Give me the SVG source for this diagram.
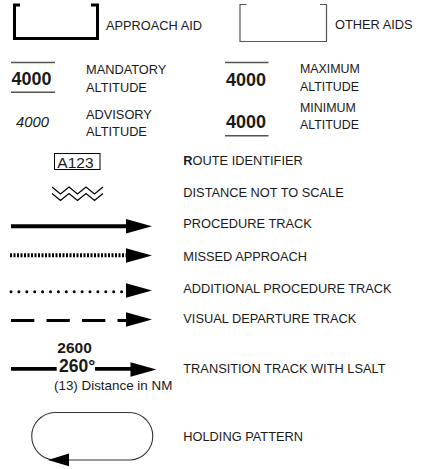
<svg xmlns="http://www.w3.org/2000/svg" width="427" height="469" viewBox="0 0 427 469">
<style>
text{font-family:"Liberation Sans",Arial,sans-serif;fill:#1a1a1a}
.lbl{font-size:12.8px}
.lbl2{font-size:12.4px}
.alt{font-size:18px;font-weight:bold}
.rule{stroke:#555;stroke-width:1.6;fill:none}
.track{stroke:#000;fill:none}
.ah{fill:#000}
</style>
<defs>
<polygon id="ah" points="0,-7.3 26,0 0,7.3"/>
</defs>
<rect width="427" height="469" fill="#fff"/>

<g id="approach-aid">
<path d="M20,5 H14.5 V38.5 H97.5 V5 H91" stroke="#000" stroke-width="3" fill="none"/>
<text class="lbl" x="106" y="30">APPROACH AID</text>
</g>
<g id="other-aids">
<path d="M246.5,4.5 H240 V41.5 H326.5 V4.5 H320" stroke="#555" stroke-width="1.2" fill="none"/>
<text class="lbl" x="335" y="29">OTHER AIDS</text>
</g>

<g id="mandatory-altitude">
<line class="rule" x1="11" y1="62.5" x2="55" y2="62.5"/>
<text class="alt" x="11.5" y="84.5">4000</text>
<line class="rule" x1="11" y1="92.3" x2="55" y2="92.3"/>
<text class="lbl" x="86" y="74">MANDATORY</text>
<text class="lbl" x="86" y="91.5">ALTITUDE</text>
</g>
<g id="maximum-altitude">
<line class="rule" x1="225" y1="62.5" x2="268.5" y2="62.5"/>
<text class="alt" x="226" y="85.7">4000</text>
<text class="lbl2" x="300" y="73.3">MAXIMUM</text>
<text class="lbl2" x="300" y="91">ALTITUDE</text>
</g>
<g id="advisory-altitude">
<text x="16" y="126.7" font-size="14.8" font-style="italic">4000</text>
<text class="lbl" x="86" y="119.3">ADVISORY</text>
<text class="lbl" x="86" y="136">ALTITUDE</text>
</g>
<g id="minimum-altitude">
<text class="alt" x="226" y="128.3">4000</text>
<line class="rule" x1="225" y1="135.7" x2="268.5" y2="135.7"/>
<text class="lbl2" x="300" y="112.3">MINIMUM</text>
<text class="lbl2" x="300" y="129">ALTITUDE</text>
</g>

<g id="route-identifier">
<rect x="54.5" y="153.5" width="45.5" height="16" fill="none" stroke="#000" stroke-width="1"/>
<text x="57.3" y="167.5" font-size="15.5">A123</text>
<text class="lbl" x="183.3" y="165"><tspan font-weight="bold">R</tspan>OUTE IDENTIFIER</text>
</g>

<g id="distance-not-to-scale">
<polyline class="track" stroke-width="1.3" points="52,187 60.5,194 69,187 77.5,194 86,187 94.5,194 103,187"/>
<polyline class="track" stroke-width="1.3" points="52,193.5 60.5,200.5 69,193.5 77.5,200.5 86,193.5 94.5,200.5 103,193.5"/>
<text class="lbl" x="183.3" y="197.3">DISTANCE NOT TO SCALE</text>
</g>

<g id="connectors">
<line class="track" x1="11" y1="226.3" x2="127" y2="226.3" stroke-width="4"/>
<use href="#ah" class="ah" x="126" y="226.3"/>
<line class="track" x1="10" y1="255.3" x2="127" y2="255.3" stroke-width="4" stroke-dasharray="2 1.5"/>
<use href="#ah" class="ah" x="126" y="255.5"/>
<line class="track" x1="11" y1="291.7" x2="127" y2="291.7" stroke-width="3" stroke-dasharray="0 7.9" stroke-linecap="round"/>
<use href="#ah" class="ah" x="126" y="290.5"/>
<line class="track" x1="11" y1="320.5" x2="127" y2="320.5" stroke-width="3.2" stroke-dasharray="23.3 12.2"/>
<use href="#ah" class="ah" x="126" y="319.5"/>
<line class="track" x1="11" y1="368.8" x2="56.7" y2="368.8" stroke-width="3.8"/>
<line class="track" x1="95" y1="368.8" x2="133" y2="368.8" stroke-width="3.8"/>
<use href="#ah" class="ah" x="130.5" y="369.5"/>
<path d="M69,412.5 H130.5 A23.8,23.8 0 0 1 130.5,460 H54 A23.8,23.8 0 0 1 54,412.5 H69" fill="none" stroke="#333" stroke-width="1.1"/>
<polygon class="ah" points="48,460 69,453.5 69,466.3"/>
</g>

<g id="procedure-track"><text class="lbl" x="183.3" y="228.3">PROCEDURE TRACK</text></g>
<g id="missed-approach"><text class="lbl" x="183.3" y="260.7">MISSED APPROACH</text></g>
<g id="additional-procedure-track"><text class="lbl" x="183.3" y="292.7">ADDITIONAL PROCEDURE TRACK</text></g>
<g id="visual-departure-track"><text class="lbl" x="183.3" y="323.3">VISUAL DEPARTURE TRACK</text></g>

<g id="transition-track">
<text x="57.3" y="353.3" font-size="15.5" font-weight="bold">2600</text>
<text x="59" y="372.3" font-size="17.5" font-weight="bold">260°</text>
<text x="54" y="390" font-size="13.4">(13) Distance in NM</text>
<text class="lbl" x="183.3" y="373.3">TRANSITION TRACK WITH LSALT</text>
</g>

<g id="holding-pattern">
<text class="lbl" x="183.3" y="441">HOLDING PATTERN</text>
</g>
</svg>
